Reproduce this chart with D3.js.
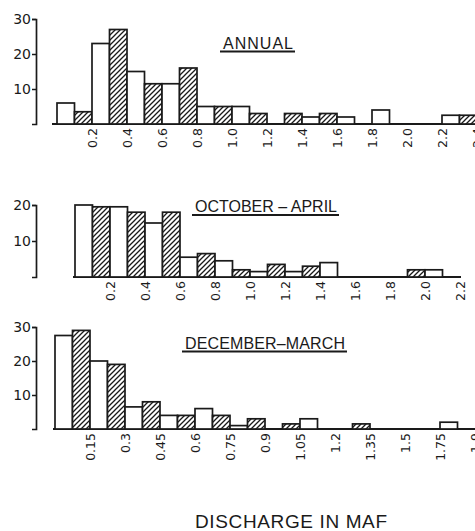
<!DOCTYPE html>
<html>
<head>
<meta charset="utf-8">
<title>Discharge histograms</title>
<script src="https://cdn.jsdelivr.net/npm/d3@7"></script>
<style>
  body { margin: 0; background: #fff; }
  svg { display: block; }
</style>
</head>
<body>
<script>
// counts per bin (0.1 MAF bins for annual and oct-apr, 0.075 MAF for dec-mar)
var annualCounts = [6, 3.5, 23, 27, 15, 11.5, 11.5, 16, 5, 5, 5, 3, 0, 3, 2, 3, 2, 0, 4, 0, 0, 0, 2.5, 2.5];
var octAprCounts = [20, 19.5, 19.5, 18, 15, 18, 5.5, 6.5, 4.5, 2, 1.5, 3.5, 1.5, 3, 4, 0, 0, 0, 0, 2, 2, 0];
var decMarCounts = [27.5, 29, 20, 19, 6.5, 8, 4, 4, 6, 4, 1, 3, 0, 1.5, 3, 0, 0, 1.5, 0, 0, 0, 0, 2, 0];

// tick labels, one every second bin edge
var annualTicks = ["0.2", "0.4", "0.6", "0.8", "1.0", "1.2", "1.4", "1.6", "1.8", "2.0", "2.2", "2.4"];
var octAprTicks = ["0.2", "0.4", "0.6", "0.8", "1.0", "1.2", "1.4", "1.6", "1.8", "2.0", "2.2"];
var decMarTicks = ["0.15", "0.3", "0.45", "0.6", "0.75", "0.9", "1.05", "1.2", "1.35", "1.5", "1.75", "1.9"];

var annualYTicks = [10, 20, 30];
var octAprYTicks = [10, 20];
var decMarYTicks = [10, 20, 30];

var titles = ["ANNUAL", "OCTOBER \u2013 APRIL", "DECEMBER\u2013MARCH"];
var xTitle = "DISCHARGE IN MAF";

var width = 475;
var height = 531;
var ink = "#1a1a1a";
var binW = 17.5;

var svg = d3.select("body").append("svg")
    .attr("width", width)
    .attr("height", height);

var defs = svg.append("defs");
var pat = defs.append("pattern")
    .attr("id", "hatch")
    .attr("patternUnits", "userSpaceOnUse")
    .attr("width", 5)
    .attr("height", 5);
pat.append("rect").attr("width", 5).attr("height", 5).attr("fill", "#fff");
pat.append("path")
    .attr("d", "M0,5 L5,0 M-1.25,1.25 L1.25,-1.25 M3.75,6.25 L6.25,3.75")
    .attr("stroke", ink)
    .attr("stroke-width", 1.3);

var panels = [
    { counts: annualCounts, ticks: annualTicks, yTicks: annualYTicks, yMax: 30, title: titles[0],
      x0: 57, base: 124, top: 19, lineStart: 52, lineEnd: 475, titleX: 258, titleY: 48.5, titleLen: 70 },
    { counts: octAprCounts, ticks: octAprTicks, yTicks: octAprYTicks, yMax: 20, title: titles[1],
      x0: 75, base: 277, top: 205, lineStart: 73, lineEnd: 461, titleX: 266, titleY: 212, titleLen: 142 },
    { counts: decMarCounts, ticks: decMarTicks, yTicks: decMarYTicks, yMax: 30, title: titles[2],
      x0: 55, base: 429, top: 327, lineStart: 53, lineEnd: 475, titleX: 265, titleY: 348.5, titleLen: 160 }
];

panels.forEach(function(p) {
    var n = p.counts.length;
    var x = d3.scaleLinear().domain([0, n]).range([p.x0, p.x0 + n * binW]);
    var y = d3.scaleLinear().domain([0, p.yMax]).range([p.base, p.top]);
    var g = svg.append("g");

    // baseline
    g.append("line")
        .attr("x1", p.lineStart).attr("x2", p.lineEnd)
        .attr("y1", p.base).attr("y2", p.base)
        .attr("stroke", ink).attr("stroke-width", 2);

    // bars, white and hatched alternately
    g.selectAll("rect.bar")
        .data(p.counts.map(function(v, i) { return { i: i, v: v }; }).filter(function(d) { return d.v > 0; }))
        .enter()
        .append("rect")
        .attr("class", "bar")
        .attr("x", function(d) { return x(d.i); })
        .attr("width", function(d) { return x(d.i + 1) - x(d.i); })
        .attr("y", function(d) { return y(d.v); })
        .attr("height", function(d) { return p.base - y(d.v); })
        .attr("fill", function(d) { return d.i % 2 == 0 ? "#fff" : "url(#hatch)"; })
        .attr("stroke", ink)
        .attr("stroke-width", 1.7);

    // y axis
    var ya = svg.append("g")
        .attr("transform", "translate(36,0)")
        .call(d3.axisLeft(y).tickValues(p.yTicks).tickSize(4).tickSizeOuter(4).tickPadding(1));
    ya.select(".domain").attr("stroke", ink).attr("stroke-width", 1.7);
    ya.selectAll(".tick line").attr("stroke", ink).attr("stroke-width", 1.5);
    ya.selectAll(".tick text")
        .attr("fill", ink)
        .attr("font-family", "DejaVu Sans")
        .attr("font-size", 14);

    // x tick labels, rotated
    var edges = p.ticks.map(function(t, i) { return (i + 1) * 2; });
    var xa = svg.append("g")
        .attr("transform", "translate(0," + p.base + ")")
        .call(d3.axisBottom(x).tickValues(edges).tickFormat(function(d, i) { return p.ticks[i]; }).tickSize(0));
    xa.select(".domain").remove();
    xa.selectAll(".tick text")
        .attr("transform", "rotate(-90)")
        .attr("x", -4)
        .attr("y", 0)
        .attr("dy", "0.36em")
        .attr("text-anchor", "end")
        .attr("fill", ink)
        .attr("font-family", "DejaVu Sans")
        .attr("font-size", 12.5);

    // underlined panel title
    g.append("text")
        .attr("x", p.titleX)
        .attr("y", p.titleY)
        .attr("text-anchor", "middle")
        .attr("textLength", p.titleLen)
        .attr("lengthAdjust", "spacing")
        .attr("font-family", "Liberation Sans")
        .attr("font-size", 16)
        .attr("fill", ink)
        .text(p.title);
    g.append("line")
        .attr("x1", p.titleX - p.titleLen / 2 - 3)
        .attr("x2", p.titleX + p.titleLen / 2 + 2)
        .attr("y1", p.titleY + 3)
        .attr("y2", p.titleY + 3)
        .attr("stroke", ink)
        .attr("stroke-width", 2);
});

svg.append("text")
    .attr("x", 291)
    .attr("y", 528)
    .attr("text-anchor", "middle")
    .attr("textLength", 192)
    .attr("lengthAdjust", "spacing")
    .attr("font-family", "Liberation Sans")
    .attr("font-size", 19)
    .attr("fill", ink)
    .text(xTitle);
</script>
</body>
</html>
